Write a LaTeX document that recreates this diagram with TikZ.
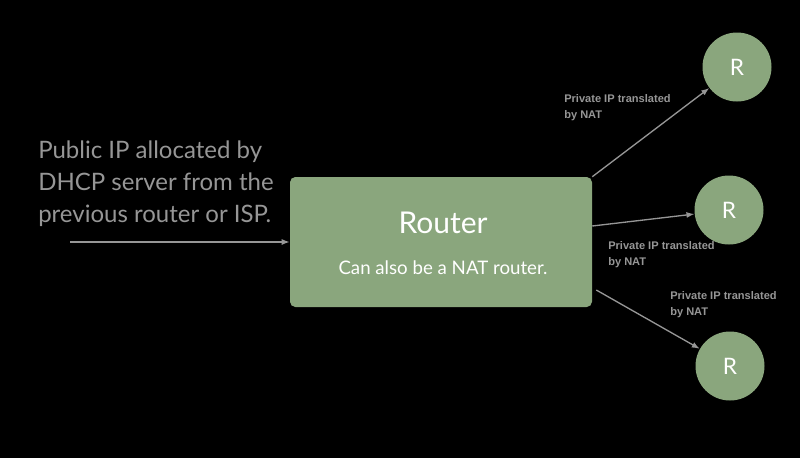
\documentclass[tikz,border=0pt]{standalone}
\usepackage{fontspec}
\setmainfont{Lato}
\newfontfamily\notefont{Liberation Sans}
\usetikzlibrary{arrows.meta}
\definecolor{routergreen}{RGB}{138,166,125}
\definecolor{linegray}{RGB}{150,150,150}
\begin{document}
\begin{tikzpicture}[x=0.75pt,y=-0.75pt,
    box/.style={fill=routergreen, rounded corners=4pt, minimum width=226.5pt, minimum height=97.5pt, inner sep=0pt},
    hop/.style={circle, fill=routergreen, minimum size=51.75pt, inner sep=0pt, text=white, font=\fontsize{17}{17}\selectfont},
    link/.style={draw=linegray, line width=1pt, -{Latex[length=6pt,width=4.5pt]}},
    note/.style={text=linegray, font=\notefont\bfseries\fontsize{8.3}{12.5}\selectfont, align=left, anchor=north west, inner sep=0pt}]
  \fill [black] (0, 0) rectangle (800, 458);
  % router in the middle
  \node [box] (router) at (441, 242) {};
  \node [text=white, font=\fontsize{22.5}{22.5}\selectfont] (title) at (443, 223) {Router};
  \node [text=white, font=\fontsize{14}{14}\selectfont] (sub) at (443, 268) {Can also be a NAT router.};
  % routers behind it
  \node [hop] (r1) at (737, 67) {R};
  \node [hop] (r2) at (729, 210) {R};
  \node [hop] (r3) at (730, 366) {R};
  % upstream side
  \node [text=linegray, font=\fontsize{18}{24}\selectfont, align=left, anchor=north west, inner sep=0pt] (public) at (38, 141)
    {Public IP allocated by\\DHCP server from the\\previous router or ISP.};
  \coordinate (isp) at (70, 242);
  \draw [link] (isp) -- (router.west);
  % downstream links
  \draw [link] (router.north east) -- (r1);
  \draw [link] ([yshift=12pt]router.east) -- (r2);
  \draw [link] ([xshift=3pt, yshift=-36pt]router.east) -- (r3);
  \node [note] (n1) at (564, 94) {Private IP translated\\by NAT};
  \node [note] (n2) at (608, 241) {Private IP translated\\by NAT};
  \node [note] (n3) at (670, 291) {Private IP translated\\by NAT};
\end{tikzpicture}
\end{document}
